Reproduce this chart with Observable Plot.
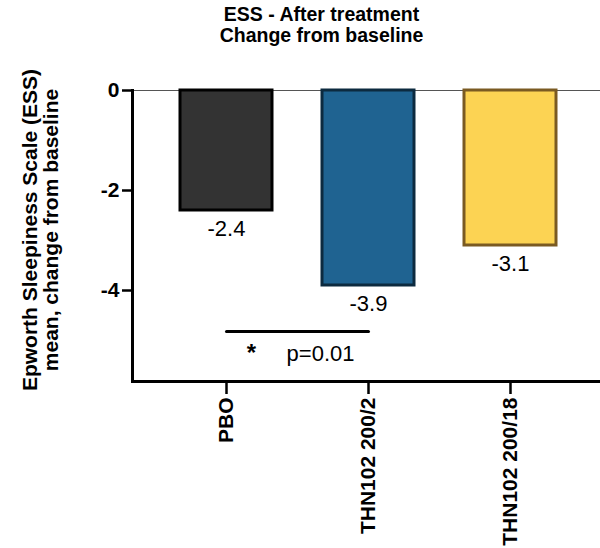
<!DOCTYPE html>
<html>
<head>
<meta charset="utf-8">
<script src="https://cdn.jsdelivr.net/npm/d3@7"></script>
<script src="https://cdn.jsdelivr.net/npm/@observablehq/plot@0.6"></script>
<style>
  body { margin: 0; background: #fff; }
  svg { font-family: "Liberation Sans", Arial, sans-serif; }
</style>
</head>
<body>
<div id="chart"></div>
<script>
const categories = ["PBO", "THN102 200/2", "THN102 200/18"];
const values = [-2.4, -3.9, -3.1];
const valueLabels = ["-2.4", "-3.9", "-3.1"];
const fills = ["#333333", "#1f6391", "#fcd353"];
const strokes = ["#000000", "#0c2a3f", "#7a5a22"];
const yTicks = [0, -2, -4];
const yMin = -5.82;
const titleText = "ESS - After treatment\nChange from baseline";
const yTitle = "Epworth Sleepiness Scale (ESS)\nmean, change from baseline";
const sigPair = ["PBO", "THN102 200/2"];
const sigLevel = -4.82;
const sigTextLevel = -5.26;
const sigStar = "*";
const sigText = "p=0.01";

const data = categories.map((c, i) => ({cat: c, value: values[i], label: valueLabels[i], fill: fills[i], stroke: strokes[i]}));
const sigLine = sigPair.map(c => ({cat: c, y: sigLevel}));

const chart = Plot.plot({
  width: 600,
  height: 548,
  marginLeft: 132,
  marginRight: 0,
  marginTop: 90,
  marginBottom: 167,
  style: {fontFamily: "'Liberation Sans', Arial, sans-serif", background: "#fff", color: "#000"},
  x: {domain: categories, paddingInner: 0.35, paddingOuter: 0.317, align: 0.52},
  y: {domain: [yMin, 0]},
  marks: [
    Plot.ruleY([0], {stroke: "#555", strokeWidth: 1.2}),
    Plot.barY(data, {x: "cat", y1: 0, y2: "value", fill: "fill", stroke: "stroke", strokeWidth: 3}),
    Plot.text(data, {x: "cat", y: "value", text: "label", dy: 18, fontSize: 22, fill: "#000"}),
    Plot.line(sigLine, {x: "cat", y: "y", stroke: "#000", strokeWidth: 3}),
    Plot.text([sigStar], {x: () => sigPair[0], y: () => sigTextLevel, text: d => d, dx: 25, fontSize: 24, fontWeight: "bold", fill: "#000"}),
    Plot.text([sigText], {x: () => sigPair[1], y: () => sigTextLevel, text: d => d, dx: -14, textAnchor: "end", fontSize: 22, fill: "#000"}),
    Plot.frame({anchor: "left", strokeWidth: 3}),
    Plot.frame({anchor: "bottom", strokeWidth: 3}),
    Plot.axisY(yTicks, {tickFormat: d => String(d), tickSize: 10, tickPadding: 3, strokeWidth: 2.5, fontSize: 21, fontWeight: "bold", label: null}),
    Plot.axisX({tickRotate: -90, tickSize: 13, tickPadding: 3, strokeWidth: 2.5, fontSize: 21, fontWeight: "bold", label: null}),
    Plot.text([titleText], {frameAnchor: "top", lineAnchor: "top", text: d => d, dx: -45, dy: -85, fontSize: 19.5, fontWeight: "bold", lineHeight: 1.1, fill: "#000"}),
    Plot.text([yTitle], {frameAnchor: "left", textAnchor: "middle", text: d => d, rotate: -90, dx: -92, dy: -6, fontSize: 21, fontWeight: "bold", lineHeight: 1.0, fill: "#000"})
  ]
});
document.getElementById("chart").appendChild(chart);
</script>
</body>
</html>
